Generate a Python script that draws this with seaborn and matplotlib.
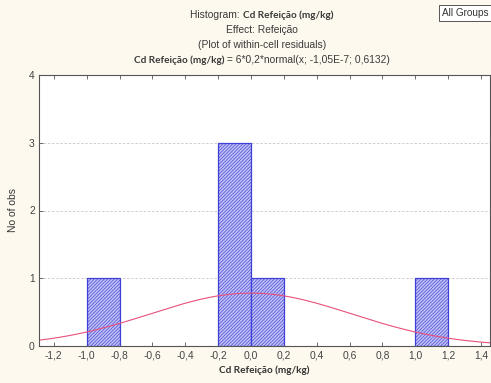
import numpy as np
import pandas as pd
import matplotlib
matplotlib.use("Agg")
import matplotlib.pyplot as plt
import seaborn as sns

# Within-cell residuals, grouped into 0.2-wide classes
bin_edges = [-1.2, -1.0, -0.8, -0.6, -0.4, -0.2, 0.0, 0.2, 0.4, 0.6, 0.8, 1.0, 1.2, 1.4]
bin_counts = [0, 1, 0, 0, 0, 3, 1, 0, 0, 0, 0, 1, 0]

# Fitted normal curve: n * width * normal(x; mean, sd)
n_obs = 6
bin_width = 0.2
fit_mean = -1.05e-7
fit_sd = 0.6132

x_ticks = [-1.2, -1.0, -0.8, -0.6, -0.4, -0.2, 0.0, 0.2, 0.4, 0.6, 0.8, 1.0, 1.2, 1.4]
y_ticks = [0, 1, 2, 3, 4]

sns.set_theme(style="white")
plt.rcParams["font.family"] = ["Liberation Sans", "DejaVu Sans"]
plt.rcParams["hatch.linewidth"] = 0.45

bg = "#fdf9ee"
fig = plt.figure(figsize=(4.91, 3.83), dpi=100, facecolor=bg)
ax = fig.add_axes([39 / 491, 1 - 346 / 383, 451 / 491, 271 / 383])
ax.set_facecolor("white")

centers = [(a + b) / 2 for a, b in zip(bin_edges[:-1], bin_edges[1:])]
hist_df = pd.DataFrame({"resid": centers, "count": bin_counts})
sns.histplot(data=hist_df, x="resid", weights="count", bins=bin_edges, ax=ax,
             color="#c0c0f4", edgecolor="#4040d8", linewidth=0.9, alpha=1.0)
for p in list(ax.patches):
    if p.get_height() == 0:
        p.remove()
    else:
        p.set_hatch("//////////")

xs = np.linspace(-1.3, 1.5, 400)
ys = n_obs * bin_width * np.exp(-0.5 * ((xs - fit_mean) / fit_sd) ** 2) / (fit_sd * np.sqrt(2 * np.pi))
sns.lineplot(x=xs, y=ys, ax=ax, color="#e8507a", linewidth=0.8)

ax.set_xlim(-1.29, 1.455)
ax.set_ylim(0, 4)
ax.set_xticks(x_ticks)
ax.set_xticklabels([f"{v:.1f}".replace(".", ",") for v in x_ticks])
ax.set_yticks(y_ticks)
ax.tick_params(axis="both", labelsize=7.4, labelcolor="#444444", colors="#555555",
               direction="in", length=3, width=0.6, pad=3)
ax.tick_params(axis="x", top=True, bottom=True)
ax.tick_params(axis="y", left=True)
for y in [1, 2, 3]:
    ax.axhline(y, color="#c8c8c8", linestyle=(0, (3, 2)), linewidth=0.6, zorder=0)
for s in ax.spines.values():
    s.set_color("#555555")
    s.set_linewidth(0.8)

ax.set_xlabel("Cd Refeição (mg/kg)", fontsize=7.2, family=["Lato", "DejaVu Sans"],
              fontweight="bold", color="#333333", labelpad=4)
ax.set_ylabel("No of obs", fontsize=7.4, color="#333333", labelpad=8)


def mixed_line(parts, y, cx=262 / 491):
    """Draw one centred line made of (text, bold) pieces."""
    fig.canvas.draw()
    r = fig.canvas.get_renderer()
    texts = []
    for s, bold in parts:
        kw = dict(fontsize=7.4, color="#3a3a3a", va="baseline", ha="left")
        if bold:
            kw.update(family=["Lato", "DejaVu Sans"], fontweight="bold", fontsize=7.2)
        t = fig.text(0, y, s, **kw)
        texts.append(t)
    widths = [t.get_window_extent(r).width for t in texts]
    total = sum(widths)
    x = cx * fig.bbox.width - total / 2
    for t, w in zip(texts, widths):
        t.set_x(x / fig.bbox.width)
        x += w


mixed_line([("Histogram: ", False), ("Cd Refeição (mg/kg)", True)], 1 - 18 / 383)
fig.text(262 / 491, 1 - 33 / 383, "Effect: Refeição", fontsize=7.4, color="#3a3a3a",
         ha="center", va="baseline")
fig.text(262 / 491, 1 - 48 / 383, "(Plot of within-cell residuals)", fontsize=7.4,
         color="#3a3a3a", ha="center", va="baseline")
mixed_line([("Cd Refeição (mg/kg)", True),
            (" = 6*0,2*normal(x; -1,05E-7; 0,6132)", False)], 1 - 63 / 383)

fig.text(442 / 491, 1 - 16 / 383, "All Groups", fontsize=7.2, color="#333333",
         ha="left", va="baseline",
         bbox=dict(boxstyle="square,pad=0.3", facecolor="white", edgecolor="#555555",
                   linewidth=0.7))

fig.savefig("out.png", dpi=100, facecolor=bg)
